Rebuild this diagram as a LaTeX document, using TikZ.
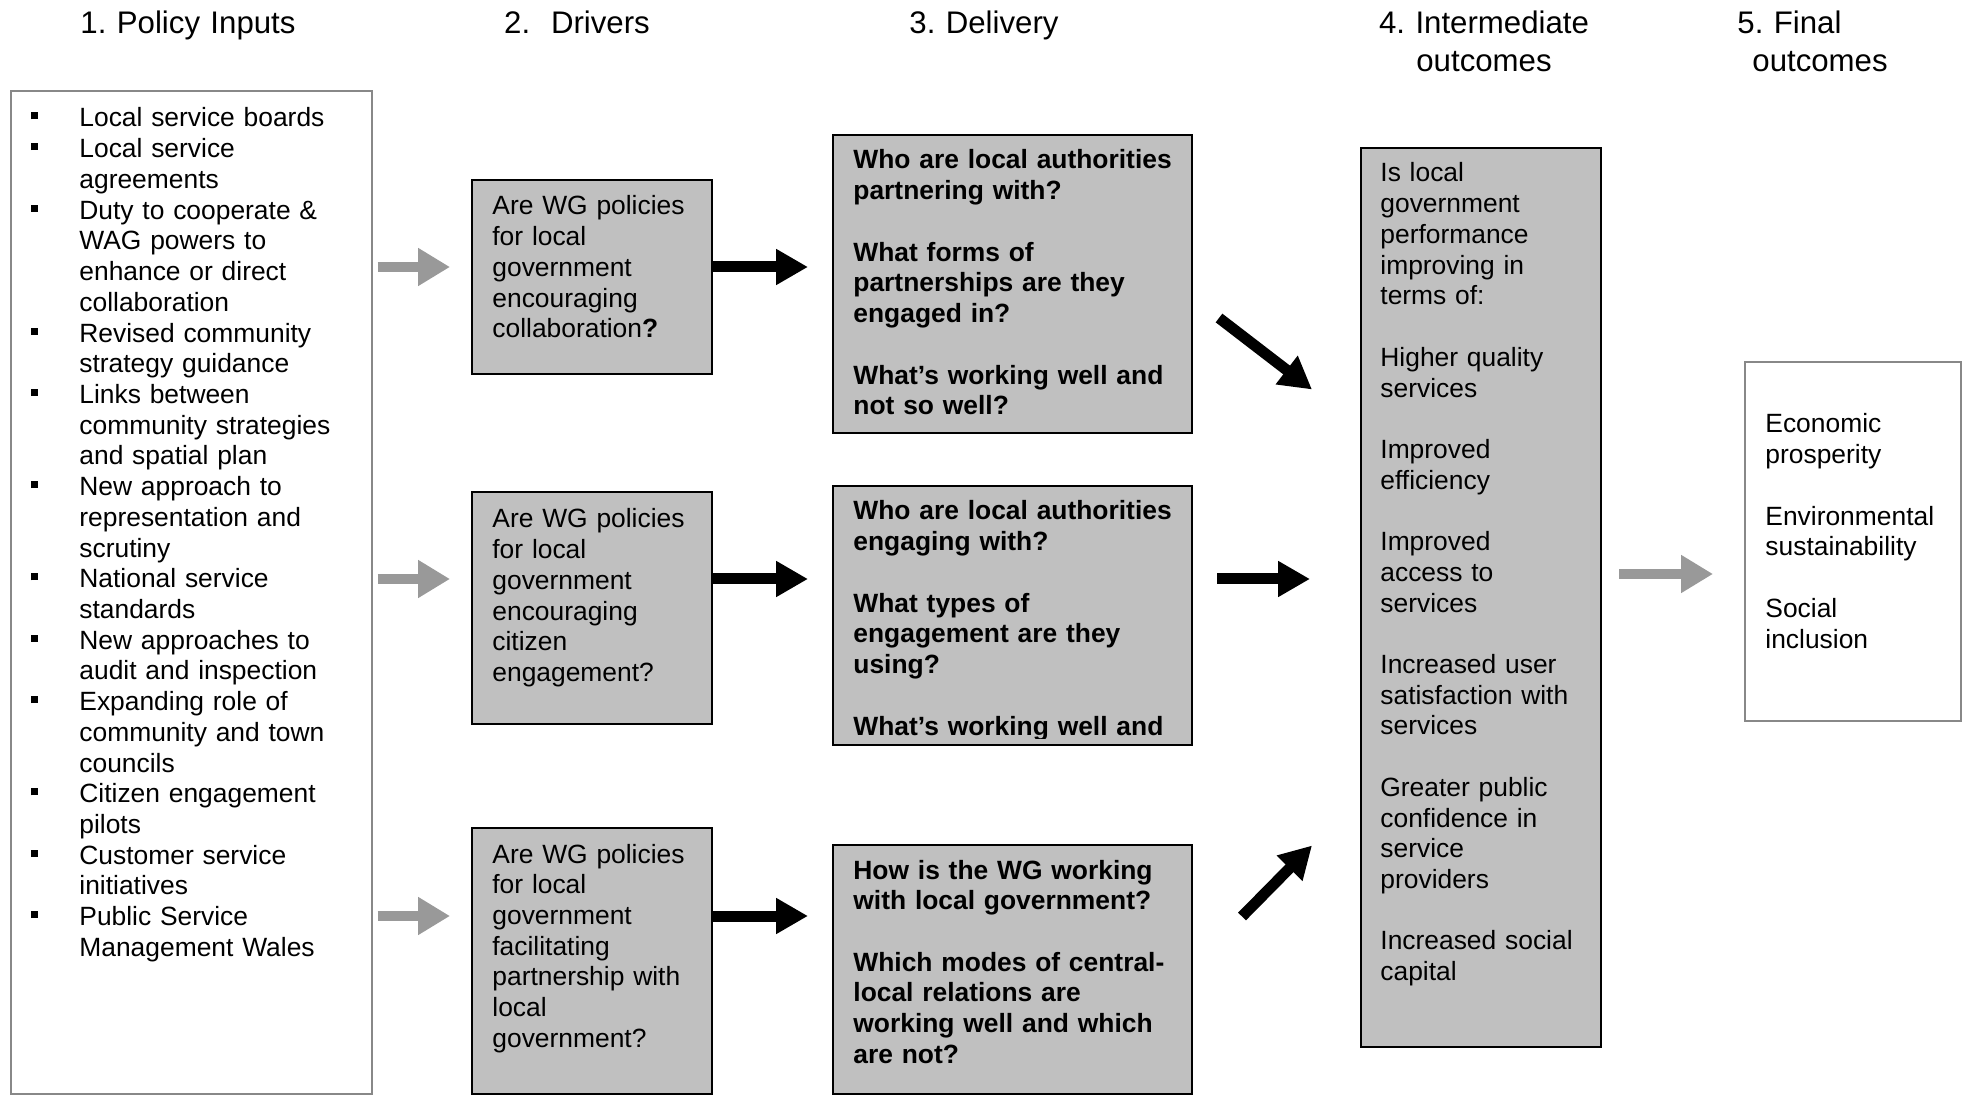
\documentclass[tikz,border=0pt]{standalone}
\usepackage{fontspec}
\setmainfont{Liberation Sans}
\usetikzlibrary{arrows.meta}
\definecolor{boxgrey}{RGB}{192,192,192}
\definecolor{linegrey}{RGB}{136,136,136}
\definecolor{arrowgrey}{RGB}{153,153,153}
\newcommand{\bodyfont}{\frenchspacing\fontsize{13.2}{15.36}\selectfont}
\newcommand{\headfont}{\frenchspacing\fontsize{15.6}{18.8}\selectfont}
\newcommand{\sqbullet}{\leavevmode\llap{\rule[3.75pt]{3.5pt}{3.5pt}\hspace{20.5pt}}}
\tikzset{
  plainbox/.style={draw=linegrey, line width=0.8pt, fill=white, anchor=north west, inner sep=0pt},
  greybox/.style={draw=black, line width=1pt, fill=boxgrey, anchor=north west, inner sep=0pt},
  boxtext/.style={anchor=base west, inner sep=0pt, text width=#1, align=left, font=\bodyfont},
  boxtext/.default=115pt,
  heading/.style={anchor=base, inner sep=0pt, text width=150pt, align=center, font=\headfont},
  greyarrow/.style={draw=arrowgrey, line width=5pt, -{Triangle[length=16pt, width=18pt]}},
  blackarrow/.style={draw=black, line width=5.5pt, -{Triangle[length=16pt, width=17pt]}},
}
\begin{document}
\begin{tikzpicture}[x=0.5pt, y=-0.5pt]
\useasboundingbox (0,0) rectangle (1964,1095);
%
\node[heading] (h1) at (188,34) {1. Policy Inputs};
\node[heading] (h2) at (577,34) {2.\ \ Drivers};
\node[heading] (h3) at (984,34) {3. Delivery};
\node[heading] (h4) at (1484,34) {4. Intermediate\\outcomes};
\node[heading, anchor=base west, align=left] (h5) at (1737,34) {5. Final\\\hspace*{7.5pt}outcomes};
%
\node[plainbox, minimum width=180.5pt, minimum height=501.5pt] (pol) at (10,90) {};
\node[boxtext=150pt] (poltxt) at ([shift={(69,37)}]pol.north west) {%
\sqbullet Local service boards\\
\sqbullet Local service\\agreements\\
\sqbullet Duty to cooperate \&\\WAG powers to\\enhance or direct\\collaboration\\
\sqbullet Revised community\\strategy guidance\\
\sqbullet Links between\\community strategies\\and spatial plan\\
\sqbullet New approach to\\representation and\\scrutiny\\
\sqbullet National service\\standards\\
\sqbullet New approaches to\\audit and inspection\\
\sqbullet Expanding role of\\community and town\\councils\\
\sqbullet Citizen engagement\\pilots\\
\sqbullet Customer service\\initiatives\\
\sqbullet Public Service\\Management Wales};
%
\node[greybox, minimum width=120pt, minimum height=97pt] (drv1) at (471,179) {};
\node[greybox, minimum width=120pt, minimum height=116pt] (drv2) at (471,491) {};
\node[greybox, minimum width=120pt, minimum height=133pt] (drv3) at (471,827) {};
\node[boxtext] (drv1txt) at ([shift={(21,36)}]drv1.north west)
  {Are WG policies\\for local\\government\\encouraging\\collaboration\textbf{?}};
\node[boxtext] (drv2txt) at ([shift={(21,37)}]drv2.north west)
  {Are WG policies\\for local\\government\\encouraging\\citizen\\engagement?};
\node[boxtext] (drv3txt) at ([shift={(21,36)}]drv3.north west)
  {Are WG policies\\for local\\government\\facilitating\\partnership with\\local\\government?};
%
\node[greybox, minimum width=179.5pt, minimum height=149pt] (dlv1) at (832,134) {};
\node[greybox, minimum width=179.5pt, minimum height=129.5pt] (dlv2) at (832,485) {};
\node[greybox, minimum width=179.5pt, minimum height=124.5pt] (dlv3) at (832,844) {};
\node[boxtext=170pt, font=\bodyfont\bfseries] (dlv1txt) at ([shift={(21,35)}]dlv1.north west)
  {Who are local authorities\\partnering with?\\[\baselineskip]What forms of\\partnerships are they\\engaged in?\\[\baselineskip]What’s working well and\\not so well?};
\begin{scope}
\clip (dlv2.north west) rectangle ([yshift=4pt]dlv2.south east);
\node[boxtext=170pt, font=\bodyfont\bfseries] (dlv2txt) at ([shift={(21,35)}]dlv2.north west)
  {Who are local authorities\\engaging with?\\[\baselineskip]What types of\\engagement are they\\using?\\[\baselineskip]What’s working well and};
\end{scope}
\node[boxtext=170pt, font=\bodyfont\bfseries] (dlv3txt) at ([shift={(21,35)}]dlv3.north west)
  {How is the WG working\\with local government?\\[\baselineskip]Which modes of central-\\local relations are\\working well and which\\are not?};
%
\node[greybox, minimum width=120pt, minimum height=449.5pt] (inter) at (1360,147) {};
\node[boxtext] (intertxt) at ([shift={(20,35)}]inter.north west)
  {Is local\\government\\performance\\improving in\\terms of:\\[\baselineskip]
   Higher quality\\services\\[\baselineskip]
   Improved\\efficiency\\[\baselineskip]
   Improved\\access to\\services\\[\baselineskip]
   Increased user\\satisfaction with\\services\\[\baselineskip]
   Greater public\\confidence in\\service\\providers\\[\baselineskip]
   Increased social\\capital};
%
\node[plainbox, minimum width=108pt, minimum height=179.5pt] (fin) at (1744,361) {};
\node[boxtext=100pt] (fintxt) at ([shift={(21,72)}]fin.north west)
  {Economic\\prosperity\\[\baselineskip]Environmental\\sustainability\\[\baselineskip]Social\\inclusion};
%
\coordinate (r1) at (0,267);
\coordinate (r2) at (0,579);
\coordinate (r3) at (0,916);
\coordinate (r4) at (0,574);
\draw[greyarrow, shorten <=2.5pt, shorten >=10.5pt] (pol.east |- r1) -- (drv1.west |- r1);
\draw[greyarrow, shorten <=2.5pt, shorten >=10.5pt] (pol.east |- r2) -- (drv2.west |- r2);
\draw[greyarrow, shorten <=2.5pt, shorten >=10.5pt] (pol.east |- r3) -- (drv3.west |- r3);
\draw[blackarrow, shorten >=12pt] (drv1.east |- r1) -- (dlv1.west |- r1);
\draw[blackarrow, shorten >=12pt] (drv2.east |- r2) -- (dlv2.west |- r2);
\draw[blackarrow, shorten >=12pt] (drv3.east |- r3) -- (dlv3.west |- r3);
\draw[blackarrow] ([shift={(26,34)}]dlv1.east) -- ([shift={(-48,-208)}]inter.west);
\draw[blackarrow, shorten <=12pt, shorten >=25pt] (dlv2.east |- r2) -- (inter.west |- r2);
\draw[blackarrow] ([shift={(49,-53)}]dlv3.east) -- ([shift={(-48,248)}]inter.west);
\draw[greyarrow, shorten <=8.5pt, shorten >=15.5pt] (inter.east |- r4) -- (fin.west |- r4);
\end{tikzpicture}
\end{document}
